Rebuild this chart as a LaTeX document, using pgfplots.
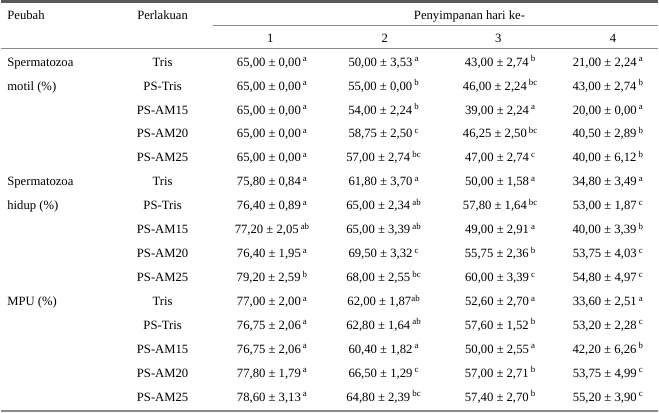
\documentclass[border=0pt]{standalone}
\usepackage{fontspec}
\setmainfont{Liberation Serif}
\usepackage{pgfplots}
\usepackage{pgfplotstable}
\pgfplotsset{compat=1.18}
\newcommand\s[1]{\,\textsuperscript{#1}}
\newcommand\tf{\fontsize{12.7}{15}\selectfont}
\definecolor{rulegray}{HTML}{8A8A8A}
\definecolor{rulegrayd}{HTML}{5A5A5A}

\pgfplotstableread[col sep=semicolon]{
p;c1;c2;c3;c4
Tris;65,00 ± 0,00\s{a};50,00 ± 3,53\s{a};43,00 ± 2,74\s{b};21,00 ± 2,24\s{a}
PS-Tris;65,00 ± 0,00\s{a};55,00 ± 0,00\s{b};46,00 ± 2,24\s{bc};43,00 ± 2,74\s{b}
PS-AM15;65,00 ± 0,00\s{a};54,00 ± 2,24\s{b};39,00 ± 2,24\s{a};20,00 ± 0,00\s{a}
PS-AM20;65,00 ± 0,00\s{a};58,75 ± 2,50\s{c};46,25 ± 2,50\s{bc};40,50 ± 2,89\s{b}
PS-AM25;65,00 ± 0,00\s{a};57,00 ± 2,74\s{bc};47,00 ± 2,74\s{c};40,00 ± 6,12\s{b}
Tris;75,80 ± 0,84\s{a};61,80 ± 3,70\s{a};50,00 ± 1,58\s{a};34,80 ± 3,49\s{a}
PS-Tris;76,40 ± 0,89\s{a};65,00 ± 2,34\s{ab};57,80 ± 1,64\s{bc};53,00 ± 1,87\s{c}
PS-AM15;77,20 ± 2,05\s{ab};65,00 ± 3,39\s{ab};49,00 ± 2,91\s{a};40,00 ± 3,39\s{b}
PS-AM20;76,40 ± 1,95\s{a};69,50 ± 3,32\s{c};55,75 ± 2,36\s{b};53,75 ± 4,03\s{c}
PS-AM25;79,20 ± 2,59\s{b};68,00 ± 2,55\s{bc};60,00 ± 3,39\s{c};54,80 ± 4,97\s{c}
Tris;77,00 ± 2,00\s{a};62,00 ± 1,87\textsuperscript{ab};52,60 ± 2,70\s{a};33,60 ± 2,51\s{a}
PS-Tris;76,75 ± 2,06\s{a};62,80 ± 1,64\s{ab};57,60 ± 1,52\s{b};53,20 ± 2,28\s{c}
PS-AM15;76,75 ± 2,06\s{a};60,40 ± 1,82\s{a};50,00 ± 2,55\s{a};42,20 ± 6,26\s{b}
PS-AM20;77,80 ± 1,79\s{a};66,50 ± 1,29\s{c};57,00 ± 2,71\s{b};53,75 ± 4,99\s{c}
PS-AM25;78,60 ± 3,13\s{a};64,80 ± 2,39\s{bc};57,40 ± 2,70\s{b};55,20 ± 3,90\s{c}
}\data

\pgfplotstableread[col sep=semicolon]{
r;name
0;Spermatozoa
1;motil (\%)
5;Spermatozoa
6;hidup (\%)
10;MPU (\%)
}\peubah

\begin{document}
\begin{tikzpicture}
\begin{axis}[
  width=659pt, height=414pt, scale only axis,
  xmin=0, xmax=659, ymin=0, ymax=414, y dir=reverse,
  hide axis, clip=false,
  cell/.style={draw=none, mark=none, nodes near coords, point meta=explicit symbolic,
    nodes near coords align={anchor=base},
    every node near coord/.append style={anchor=base, inner sep=0pt, font=\tf, text=black}},
]
\path (axis cs:0,0) rectangle (axis cs:659,414);
% rules
\draw[rulegrayd, line width=2.4pt] (axis cs:0,1.6) -- (axis cs:659,1.6);
\draw[rulegray, line width=1.1pt] (axis cs:213,26) -- (axis cs:659,26);
\draw[rulegray, line width=1.1pt] (axis cs:0,49) -- (axis cs:659,49);
\draw[rulegray, line width=1.6pt] (axis cs:0,412.5) -- (axis cs:659,412.5);
% headers
\node[anchor=base west, inner sep=0pt, font=\tf] at (axis cs:6,19.5) {Peubah};
\node[anchor=base, inner sep=0pt, font=\tf] at (axis cs:162,19.5) {Perlakuan};
\node[anchor=base, inner sep=0pt, font=\tf] at (axis cs:470,19.5) {Penyimpanan hari ke-};
\node[anchor=base, inner sep=0pt, font=\tf] at (axis cs:270,42.5) {1};
\node[anchor=base, inner sep=0pt, font=\tf] at (axis cs:385,42.5) {2};
\node[anchor=base, inner sep=0pt, font=\tf] at (axis cs:499,42.5) {3};
\node[anchor=base, inner sep=0pt, font=\tf] at (axis cs:614,42.5) {4};
% body
\addplot[cell, every node near coord/.append style={anchor=base west}] table[x expr=6, y expr={66.5+24*\thisrow{r}}, meta=name] {\peubah};
\addplot[cell] table[x expr=162, y expr={66.5+24*\coordindex}, meta=p] {\data};
\addplot[cell] table[x expr=272, y expr={66.5+24*\coordindex}, meta=c1] {\data};
\addplot[cell] table[x expr=384, y expr={66.5+24*\coordindex}, meta=c2] {\data};
\addplot[cell] table[x expr=501, y expr={66.5+24*\coordindex}, meta=c3] {\data};
\addplot[cell] table[x expr=609, y expr={66.5+24*\coordindex}, meta=c4] {\data};
\end{axis}
\end{tikzpicture}
\end{document}
